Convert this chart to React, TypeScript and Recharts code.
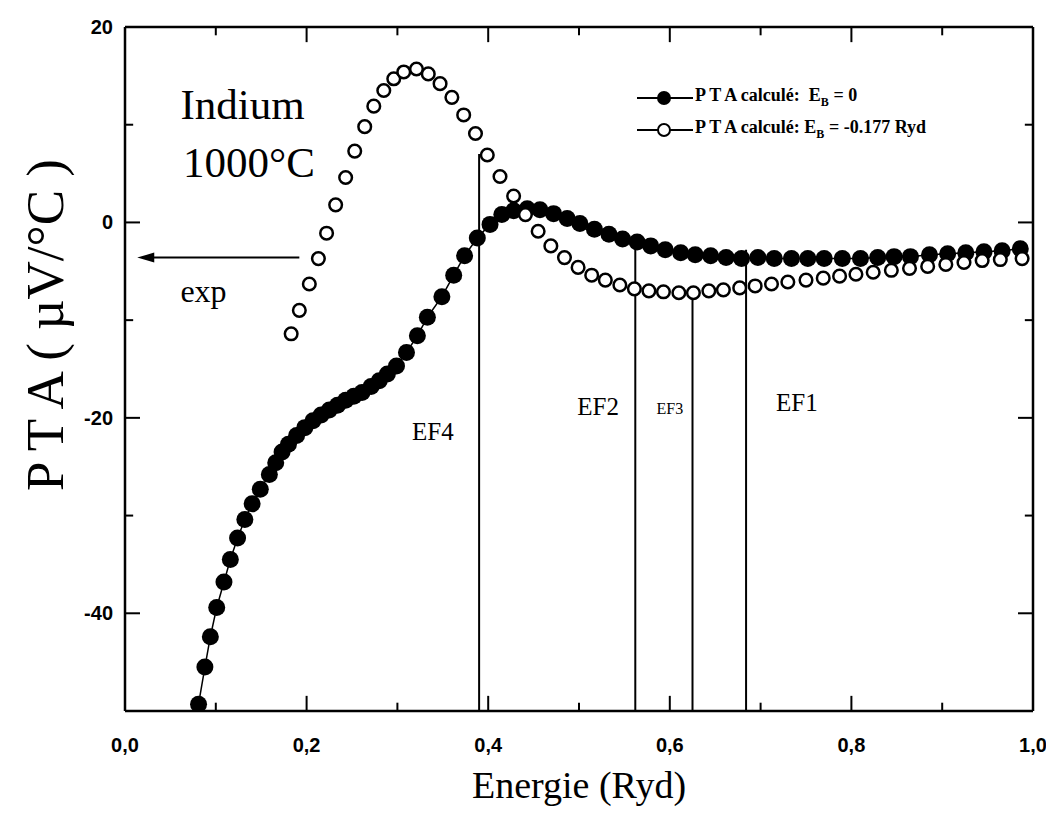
import {
  Legend,
  ReferenceDot,
  ReferenceLine,
  Scatter,
  ScatterChart,
  XAxis,
  YAxis,
} from 'recharts';

const SERIF = '"Liberation Serif", "Times New Roman", serif';
const SANS = '"Liberation Sans", Arial, sans-serif';

// axes
const X_TICKS = [0, 0.1, 0.2, 0.3, 0.4, 0.5, 0.6, 0.7, 0.8, 0.9, 1.0];
const X_LABELED = [0, 0.2, 0.4, 0.6, 0.8, 1.0];
const Y_TICKS = [-50, -40, -30, -20, -10, 0, 10, 20];
const Y_LABELED = [-40, -20, 0, 20];

// P T A calculé, E_B = 0 (filled circles)
const FILLED_E = [
  0.081, 0.088, 0.094, 0.101, 0.109, 0.116, 0.124, 0.132, 0.14, 0.149, 0.159, 0.166, 0.173, 0.18,
  0.189, 0.198, 0.207, 0.216, 0.225, 0.234, 0.243, 0.252, 0.261, 0.271, 0.28, 0.289, 0.299, 0.31,
  0.322, 0.333, 0.349, 0.362, 0.374, 0.388, 0.402, 0.415, 0.428, 0.443, 0.457, 0.472, 0.487, 0.501,
  0.517, 0.533, 0.548, 0.564, 0.579, 0.595, 0.612, 0.628, 0.645, 0.662, 0.679, 0.697, 0.715, 0.734,
  0.752, 0.77, 0.79, 0.81, 0.829, 0.847, 0.865, 0.886, 0.906, 0.926, 0.946, 0.966, 0.986,
];
const FILLED_V = [
  -49.3, -45.5, -42.4, -39.4, -36.8, -34.5, -32.3, -30.4, -28.8, -27.3, -25.8, -24.6, -23.5, -22.7,
  -21.8, -21.0, -20.3, -19.7, -19.2, -18.7, -18.2, -17.8, -17.4, -16.8, -16.2, -15.5, -14.7, -13.3,
  -11.6, -9.7, -7.6, -5.4, -3.4, -1.6, -0.2, 0.8, 1.2, 1.4, 1.3, 0.9, 0.4, -0.1,
  -0.7, -1.2, -1.7, -2.0, -2.4, -2.8, -3.1, -3.3, -3.4, -3.6, -3.7, -3.6, -3.7, -3.7,
  -3.7, -3.7, -3.7, -3.7, -3.6, -3.5, -3.5, -3.3, -3.2, -3.1, -3.0, -2.9, -2.7,
];

// P T A calculé, E_B = -0.177 Ryd (open circles)
const OPEN_E = [
  0.183, 0.192, 0.203, 0.213, 0.222, 0.232, 0.243, 0.253, 0.264, 0.274, 0.285, 0.296, 0.307, 0.321,
  0.334, 0.347, 0.36, 0.373, 0.386, 0.399, 0.413, 0.428, 0.441, 0.455, 0.469, 0.484, 0.499, 0.514,
  0.529, 0.545, 0.561, 0.577, 0.593, 0.61, 0.626, 0.643, 0.659, 0.677, 0.694, 0.712, 0.73, 0.75,
  0.769, 0.787, 0.805, 0.824, 0.844, 0.864, 0.884, 0.904, 0.924, 0.944, 0.964, 0.988,
];
const OPEN_V = [
  -11.4, -9.0, -6.3, -3.7, -1.1, 1.8, 4.6, 7.3, 9.8, 11.9, 13.5, 14.7, 15.4, 15.7,
  15.2, 14.2, 12.8, 11.0, 9.1, 6.9, 4.7, 2.7, 0.8, -0.9, -2.4, -3.6, -4.6, -5.4,
  -5.9, -6.4, -6.8, -7.0, -7.1, -7.2, -7.2, -7.0, -6.9, -6.7, -6.5, -6.3, -6.1, -5.9,
  -5.7, -5.5, -5.3, -5.1, -4.9, -4.7, -4.5, -4.3, -4.1, -3.9, -3.8, -3.7,
];

// Fermi level markers
const EF_NAMES = ['EF4', 'EF2', 'EF3', 'EF1'];
const EF_E = [0.39, 0.562, 0.625, 0.684];
const EF_TOP = [7, -1.5, -6.8, -2.8];
const EF_LABEL_E = [0.339, 0.521, 0.6, 0.74];
const EF_LABEL_V = [-22.3, -19.7, -19.6, -19.3];

const filled = FILLED_E.map((e, i) => ({ e, v: FILLED_V[i] }));
const open = OPEN_E.map((e, i) => ({ e, v: OPEN_V[i] }));

const SERIES = [
  { key: 'b0', label: 'P T A calculé:  E', sub: 'B', tail: ' = 0', filled: true },
  { key: 'b177', label: 'P T A calculé: E', sub: 'B', tail: ' = -0.177 Ryd', filled: false },
];

const NOTES = [
  { text: 'Indium', e: 0.061, v: 10.6, size: 43 },
  { text: '1000°C', e: 0.064, v: 4.6, size: 43 },
  { text: 'exp', e: 0.061, v: -8.1, size: 32 },
];

const X_MIN = 0;
const X_MAX = 1;
const Y_MIN = -50;
const Y_MAX = 20;
// inward tick lengths, in axis units (about 15px / 8px)
const TICK_V = { major: 1.55, minor: 0.85 };
const TICK_E = { major: 0.0165, minor: 0.009 };

const has = (list: number[], v: number) => list.some((t) => Math.abs(t - v) < 1e-6);
const fmtX = (v: number) => v.toFixed(1).replace('.', ',');

function BottomTick(props: any) {
  const { x, y, payload } = props;
  if (!has(X_LABELED, payload.value)) return <g />;
  return (
    <text x={x} y={y + 41} textAnchor="middle" fontFamily={SANS} fontWeight="bold" fontSize={20} fill="#000">
      {fmtX(payload.value)}
    </text>
  );
}

function LeftTick(props: any) {
  const { x, y, payload } = props;
  if (!has(Y_LABELED, payload.value)) return <g />;
  return (
    <text x={x - 12} y={y + 7} textAnchor="end" fontFamily={SANS} fontWeight="bold" fontSize={20} fill="#000">
      {payload.value}
    </text>
  );
}

function YTitle(props: any) {
  const vb = props.viewBox ?? { x: 0, y: 19, width: 117, height: 684 };
  const cx = vb.x + 55;
  const cy = vb.y + vb.height / 2 - 44;
  return (
    <text
      x={cx}
      y={cy}
      transform={`rotate(-90 ${cx} ${cy})`}
      textAnchor="middle"
      fontFamily={SERIF}
      fontSize={53}
      fill="#000"
    >
      P T A ( µV/°C )
    </text>
  );
}

const FilledDot = (p: any) => <circle cx={p.cx} cy={p.cy} r={8.5} fill="#000" />;
const OpenDot = (p: any) => <circle cx={p.cx} cy={p.cy} r={6.3} fill="#fff" stroke="#000" strokeWidth={2.5} />;

function LegendBox() {
  return (
    <div style={{ fontFamily: SERIF, fontWeight: 'bold', fontSize: 18, color: '#000', lineHeight: '32px' }}>
      {SERIES.map((s) => (
        <div key={s.key} style={{ display: 'flex', alignItems: 'center', height: 32 }}>
          <svg width={56} height={20} style={{ marginRight: 2 }}>
            <line x1={0} x2={56} y1={10} y2={10} stroke="#000" strokeWidth={2} />
            {s.filled ? (
              <circle cx={27} cy={10} r={7} fill="#000" />
            ) : (
              <circle cx={27} cy={10} r={6} fill="#fff" stroke="#000" strokeWidth={2} />
            )}
          </svg>
          <span style={{ whiteSpace: 'pre' }}>
            {s.label}
            <sub style={{ fontSize: 12 }}>{s.sub}</sub>
            {s.tail}
          </span>
        </div>
      ))}
    </div>
  );
}

export default function App() {
  return (
    <ScatterChart
      width={1038}
      height={800}
      margin={{ top: 19, right: 13, left: 0, bottom: 0 }}
      style={{ fontFamily: SERIF }}
    >
      <XAxis
        type="number"
        dataKey="e"
        domain={[X_MIN, X_MAX]}
        allowDataOverflow
        ticks={X_TICKS}
        interval={0}
        height={97}
        tickLine={false}
        tickSize={0}
        tickMargin={0}
        tick={BottomTick}
        axisLine={{ stroke: '#000', strokeWidth: 2.5 }}
        label={{ value: 'Energie (Ryd)', position: 'insideBottom', offset: 10, fontFamily: SERIF, fontSize: 38, fill: '#000' }}
      />
      <YAxis
        type="number"
        dataKey="v"
        domain={[Y_MIN, Y_MAX]}
        allowDataOverflow
        ticks={Y_TICKS}
        interval={0}
        width={117}
        tickLine={false}
        tickSize={0}
        tickMargin={0}
        tick={LeftTick}
        axisLine={{ stroke: '#000', strokeWidth: 2.5 }}
        label={<YTitle />}
      />

      {/* frame: top and right edges */}
      <ReferenceLine y={Y_MAX} stroke="#000" strokeWidth={2.5} />
      <ReferenceLine x={X_MAX} stroke="#000" strokeWidth={2.5} />

      {/* inward ticks on all four sides */}
      {X_TICKS.map((t) => {
        const len = has(X_LABELED, t) ? TICK_V.major : TICK_V.minor;
        return [
          <ReferenceLine
            key={`xb-${t}`}
            segment={[{ x: t, y: Y_MIN }, { x: t, y: Y_MIN + len }]}
            stroke="#000"
            strokeWidth={2}
          />,
          <ReferenceLine
            key={`xt-${t}`}
            segment={[{ x: t, y: Y_MAX }, { x: t, y: Y_MAX - len }]}
            stroke="#000"
            strokeWidth={2}
          />,
        ];
      })}
      {Y_TICKS.map((t) => {
        const len = has(Y_LABELED, t) ? TICK_E.major : TICK_E.minor;
        return [
          <ReferenceLine
            key={`yl-${t}`}
            segment={[{ x: X_MIN, y: t }, { x: X_MIN + len, y: t }]}
            stroke="#000"
            strokeWidth={2}
          />,
          <ReferenceLine
            key={`yr-${t}`}
            segment={[{ x: X_MAX, y: t }, { x: X_MAX - len, y: t }]}
            stroke="#000"
            strokeWidth={2}
          />,
        ];
      })}

      {EF_E.map((e, i) => (
        <ReferenceLine
          key={EF_NAMES[i]}
          segment={[
            { x: e, y: Y_MIN },
            { x: e, y: EF_TOP[i] },
          ]}
          stroke="#000"
          strokeWidth={2}
        />
      ))}
      {EF_NAMES.map((name, i) => (
        <ReferenceDot
          key={`lbl-${name}`}
          x={EF_LABEL_E[i]}
          y={EF_LABEL_V[i]}
          shape={(p: any) => (
            <text x={p.cx} y={p.cy} textAnchor="middle" fontFamily={SERIF} fontSize={name === 'EF3' ? 16 : 25} fill="#000">
              {name}
            </text>
          )}
        />
      ))}

      {NOTES.map((n) => (
        <ReferenceDot
          key={n.text}
          x={n.e}
          y={n.v}
          shape={(p: any) => (
            <text x={p.cx} y={p.cy} fontFamily={SERIF} fontSize={n.size} fill="#000">
              {n.text}
            </text>
          )}
        />
      ))}
      <ReferenceLine
        segment={[
          { x: 0.03, y: -3.6 },
          { x: 0.192, y: -3.6 },
        ]}
        stroke="#000"
        strokeWidth={2}
      />
      <ReferenceDot
        x={0.0135}
        y={-3.6}
        shape={(p: any) => (
          <polygon points={`${p.cx},${p.cy} ${p.cx + 17},${p.cy - 5} ${p.cx + 17},${p.cy + 5}`} fill="#000" />
        )}
      />

      <Scatter
        name={SERIES[0].key}
        data={filled}
        isAnimationActive={false}
        line={{ stroke: '#000', strokeWidth: 1.5 }}
        lineType="joint"
        shape={FilledDot}
      />
      <Scatter name={SERIES[1].key} data={open} isAnimationActive={false} shape={OpenDot} />

      <Legend
        layout="vertical"
        align="center"
        verticalAlign="middle"
        content={() => <LegendBox />}
        wrapperStyle={{ left: 629, top: 74, width: 'auto' }}
      />
    </ScatterChart>
  );
}
